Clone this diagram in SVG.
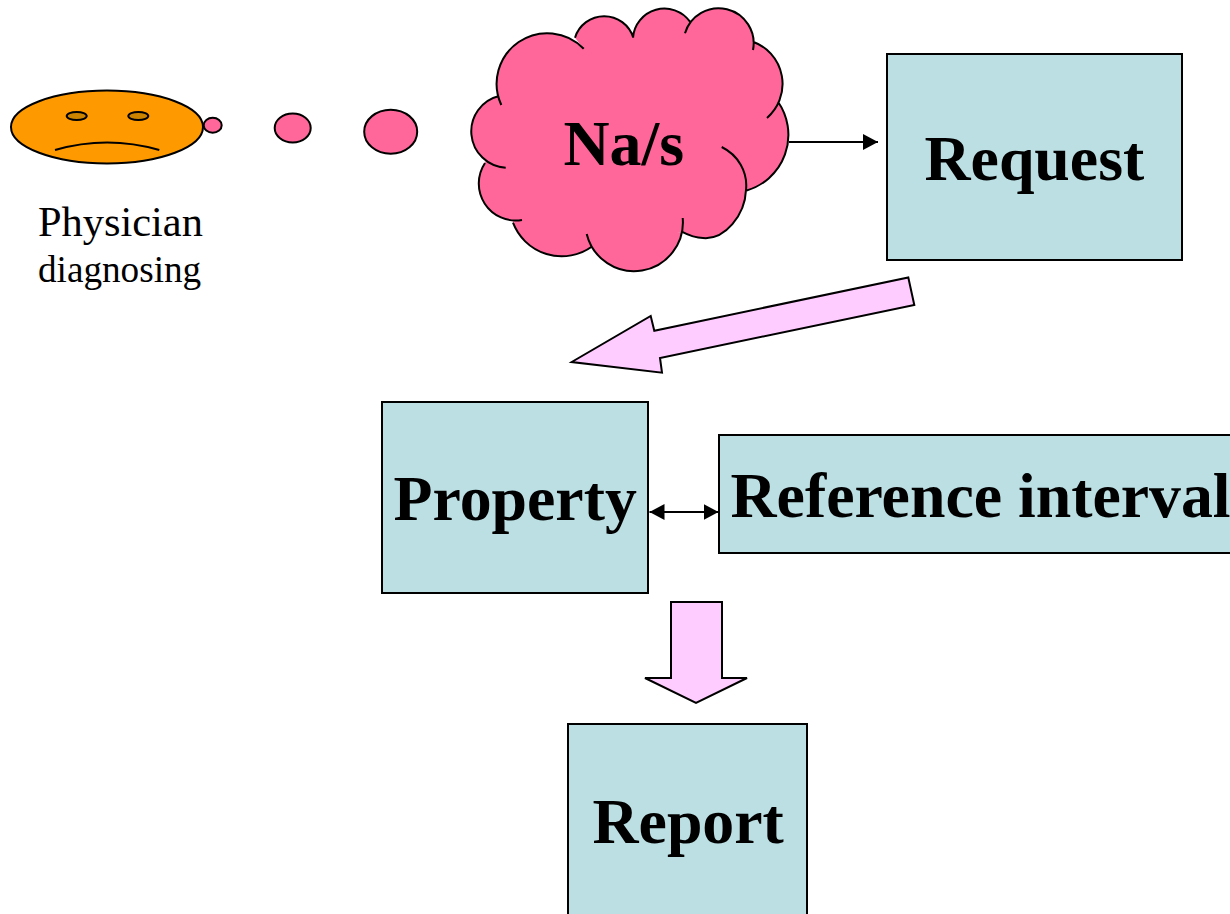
<svg xmlns="http://www.w3.org/2000/svg" width="1230" height="914" viewBox="0 0 1230 914">
<style>
.box{fill:#bbdfe3;stroke:#000;stroke-width:2}
.big{font-family:"Liberation Serif","Times New Roman",serif;font-weight:bold;font-size:63.8px;fill:#000}
.sm{font-family:"Liberation Serif","Times New Roman",serif;fill:#000}
.pink{fill:#ff6699;stroke:#000;stroke-width:2}
.block{fill:#ffccff;stroke:#000;stroke-width:2;stroke-linejoin:miter}
.line{stroke:#000;stroke-width:2;fill:none}
</style>
<defs>
<marker id="ah" markerUnits="userSpaceOnUse" markerWidth="16" markerHeight="17" refX="15" refY="8" orient="auto-start-reverse"><path d="M0,0 L15,8 L0,16 Z" fill="#000"/></marker>
</defs>
<rect width="1230" height="914" fill="#fff"/>
<g id="physician">
<ellipse cx="107" cy="127" rx="96" ry="36.5" fill="#ff9900" stroke="#000" stroke-width="2"/>
<ellipse cx="76.7" cy="116" rx="10" ry="4" fill="#cc8400" stroke="#000" stroke-width="2"/>
<ellipse cx="138.3" cy="116" rx="10" ry="4" fill="#cc8400" stroke="#000" stroke-width="2"/>
<path d="M55,150 Q107,135 159.3,150" class="line"/>
<text class="sm" x="38" y="236" font-size="42.4">Physician</text>
<text class="sm" x="38" y="282" font-size="37.2">diagnosing</text>
</g>
<g id="thought-bubbles">
<ellipse class="pink" cx="212.7" cy="125.3" rx="9" ry="7.5"/>
<ellipse class="pink" cx="292.7" cy="128" rx="18" ry="14.5"/>
<ellipse class="pink" cx="390.7" cy="131.7" rx="26.5" ry="22"/>
</g>
<g id="cloud">
<path fill="#ff6699" d="M499,96 L583,48 L633,38 L690,22 L753,45 L775,105 L746,190 L682,232 L588,236 L513,222 L485,163 Z M501.3,105 A50.6,50.6 0 0 1 583.7,48.7 L575,37.7 A30.5,30.5 0 0 1 633.3,37.7 A31.5,31.5 0 0 1 690,21.7 L685,33.3 A35.05,35.05 0 0 1 753,50 L753,41.7 A45,45 0 0 1 767,118 L778,101.7 A58,58 0 0 1 746,190.7 L721.7,147 C738,155 748,172 746,190 C745,215 725,240 703,238 C695,238 688,235 681.7,231.7 L682.7,218 A48.8,48.8 0 0 1 586.7,234 L591.7,246.7 A52,52 0 0 1 513,222.7 L522,220 A37,37 0 0 1 485,163 L505.7,167.7 A36.4,36.4 0 0 1 499,96 Z"/>
<path fill="none" stroke="#000" stroke-width="2" d="M501.3,105 A50.6,50.6 0 0 1 583.7,48.7 M575,37.7 A30.5,30.5 0 0 1 633.3,37.7 M633,37.7 A31.5,31.5 0 0 1 690,21.7 M685,33.3 A35.05,35.05 0 0 1 753,50 M753,41.7 A45,45 0 0 1 767,118 M778,101.7 A58,58 0 0 1 746,190.7 M721.7,147 C738,155 748,172 746,190 C745,215 725,240 703,238 C695,238 688,235 681.7,231.7 M682.7,218 A48.8,48.8 0 0 1 586.7,234 M591.7,246.7 A52,52 0 0 1 513,222.7 M522,220 A37,37 0 0 1 485,163 M505.7,167.7 A36.4,36.4 0 0 1 499,96"/>
<text class="big" x="563.5" y="165">Na/s</text>
</g>
<g id="connectors">
<line class="line" x1="789" y1="142" x2="878" y2="142" marker-end="url(#ah)"/>
<line class="line" x1="649.5" y1="512" x2="718.5" y2="512" marker-start="url(#ah)" marker-end="url(#ah)"/>
<polygon class="block" points="908.3,277.5 914.3,305 660,358 662,372.7 571.7,362 650.7,316 654.3,330.7"/>
<polygon class="block" points="671,602 722,602 722,678 747,678 696,703 645,678 671,678"/>
</g>
<g id="request"><rect class="box" x="887" y="54" width="295" height="206"/><text class="big" x="924.5" y="180">Request</text></g>
<g id="property"><rect class="box" x="382" y="402" width="266" height="191"/><text class="big" x="393.5" y="520">Property</text></g>
<g id="reference-interval"><rect class="box" x="719" y="435" width="520" height="118"/><text class="big" x="730.5" y="517">Reference interval</text></g>
<g id="report"><rect class="box" x="568" y="724" width="239" height="200"/><text class="big" x="592.5" y="843">Report</text></g>
</svg>
